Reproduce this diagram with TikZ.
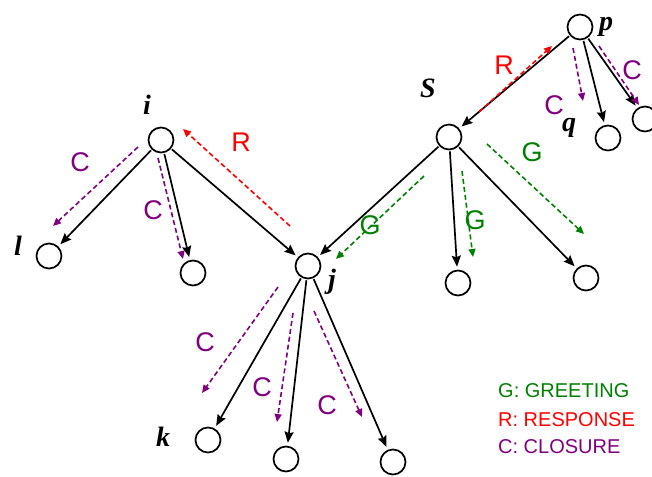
\documentclass[tikz,border=0pt]{standalone}
\usepackage{fontspec}
\setmainfont{Liberation Serif}
\setsansfont{Liberation Sans}
\usetikzlibrary{arrows.meta}
\definecolor{greet}{RGB}{0,128,0}
\definecolor{resp}{RGB}{255,0,0}
\definecolor{clos}{RGB}{128,0,128}
\begin{document}
\begin{tikzpicture}[x=1pt,y=-1pt,
  statebox/.style={circle,draw,line width=1.7pt,minimum size=25pt,inner sep=0pt},
  stname/.style={inner sep=0pt,font=\fontsize{28}{28}\selectfont\bfseries\itshape},
  treeedge/.style={line width=1.7pt,-{Stealth[length=11pt,width=9pt,inset=1.5pt]},shorten >=3pt,shorten <=1pt},
  msgedge/.style={line width=1.6pt,dash pattern=on 5pt off 3pt,-{Triangle[length=8pt,width=7pt]}},
  msglabel/.style={inner sep=0pt,font=\sffamily\fontsize{27}{27}\selectfont},
  keytext/.style={inner sep=0pt,anchor=west,font=\sffamily\fontsize{20}{20}\selectfont}]
\useasboundingbox (0,0) rectangle (652,476);

% states
\node[statebox] (i)  at (161,140) {};
\node[statebox] (l)  at (49,256) {};
\node[statebox] (ic) at (193,273) {};
\node[statebox] (j)  at (308,266) {};
\node[statebox] (k)  at (208,440) {};
\node[statebox] (j2) at (286,459) {};
\node[statebox] (j3) at (393,462) {};
\node[statebox] (S)  at (449,137) {};
\node[statebox] (S2) at (458,283) {};
\node[statebox] (S3) at (586,278) {};
\node[statebox] (p)  at (580,27) {};
\node[statebox] (pq) at (608,138) {};
\node[statebox] (pr) at (645,119) {};

% state names
\node[stname] (ni) at (147,105) {i};
\node[stname] (nl) at (18,246) {l};
\node[stname] (nj) at (332,282) {j};
\node[stname] (nk) at (163,437) {k};
\node[stname] (nS) at (428,88) {S};
\node[stname] (np) at (606,27) {p};
\node[stname] (nq) at (569,128) {q};

% tree edges
\draw[treeedge] (i) -- (l);
\draw[treeedge] (i) -- (ic);
\draw[treeedge] (i) -- (j);
\draw[treeedge] (S) -- (j);
\draw[treeedge] (S) -- (S2);
\draw[treeedge] (S) -- (S3);
\draw[treeedge] (p) -- (S);
\draw[treeedge] (p) -- (pq);
\draw[treeedge] (p) -- (pr);
\draw[treeedge] (j) -- (k);
\draw[treeedge] (j) -- (j2);
\draw[treeedge] (j) -- (j3);

% message end points
\coordinate (c1a) at (138,147); \coordinate (c1b) at (53,226);
\coordinate (c2a) at (158,158); \coordinate (c2b) at (183,259);
\coordinate (r1a) at (290,226); \coordinate (r1b) at (183,129);
\coordinate (g1a) at (424,176); \coordinate (g1b) at (336,259);
\coordinate (g2a) at (462,171); \coordinate (g2b) at (473,257);
\coordinate (g3a) at (487,144); \coordinate (g3b) at (584,234);
\coordinate (r2a) at (479,112); \coordinate (r2b) at (552,46);
\coordinate (c3a) at (573,48);  \coordinate (c3b) at (583,101);
\coordinate (c4a) at (599,46);  \coordinate (c4b) at (639,105);
\coordinate (c5a) at (278,287); \coordinate (c5b) at (202,393);
\coordinate (c6a) at (293,313); \coordinate (c6b) at (277,422);
\coordinate (c7a) at (314,311); \coordinate (c7b) at (362,417);

% messages
\draw[msgedge,clos]  (c1a) -- (c1b);
\draw[msgedge,clos]  (c2a) -- (c2b);
\draw[msgedge,resp]  (r1a) -- (r1b);
\draw[msgedge,greet] (g1a) -- (g1b);
\draw[msgedge,greet] (g2a) -- (g2b);
\draw[msgedge,greet] (g3a) -- (g3b);
\draw[msgedge,resp]  (r2a) -- (r2b);
\draw[msgedge,clos]  (c3a) -- (c3b);
\draw[msgedge,clos]  (c4a) -- (c4b);
\draw[msgedge,clos]  (c5a) -- (c5b);
\draw[msgedge,clos]  (c6a) -- (c6b);
\draw[msgedge,clos]  (c7a) -- (c7b);

% message labels
\node[msglabel,clos]  (lc1) at (80,162)  {C};
\node[msglabel,clos]  (lc2) at (153,210) {C};
\node[msglabel,resp]  (lr1) at (241,142) {R};
\node[msglabel,greet] (lg1) at (370,225) {G};
\node[msglabel,greet] (lg2) at (475,220) {G};
\node[msglabel,greet] (lg3) at (532,152) {G};
\node[msglabel,resp]  (lr2) at (504,65)  {R};
\node[msglabel,clos]  (lc3) at (554,105) {C};
\node[msglabel,clos]  (lc4) at (632,70)  {C};
\node[msglabel,clos]  (lc5) at (205,342) {C};
\node[msglabel,clos]  (lc6) at (262,387) {C};
\node[msglabel,clos]  (lc7) at (327,405) {C};

% legend
\node[keytext,greet] (kg) at (498,391) {G: GREETING};
\node[keytext,resp]  (kr) at (498,420) {R: RESPONSE};
\node[keytext,clos]  (kc) at (498,447) {C: CLOSURE};
\end{tikzpicture}
\end{document}
